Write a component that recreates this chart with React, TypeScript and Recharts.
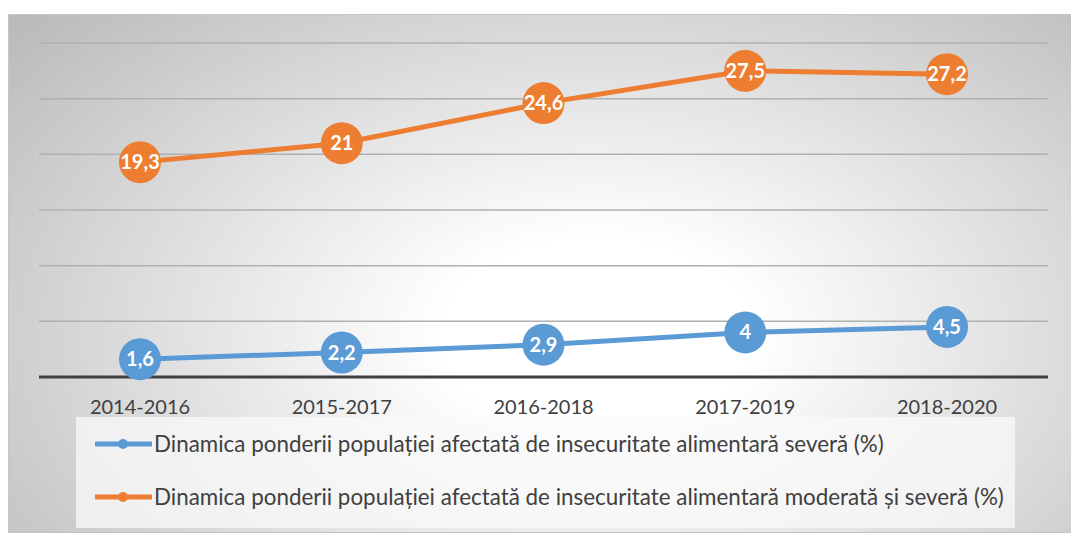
import React from "react";
import { LineChart, Line, XAxis, YAxis, CartesianGrid, LabelList } from "recharts";

const periods = ["2014-2016", "2015-2017", "2016-2018", "2017-2019", "2018-2020"];
const severe = [1.6, 2.2, 2.9, 4, 4.5];
const moderateSevere = [19.3, 21, 24.6, 27.5, 27.2];
const yTicks = [0, 5, 10, 15, 20, 25, 30];

const severeName = "Dinamica ponderii populației afectată de insecuritate alimentară severă (%)";
const moderateName =
  "Dinamica ponderii populației afectată de insecuritate alimentară moderată și severă (%)";

const BLUE = "#5B9BD5";
const ORANGE = "#ED7D31";
const FONT = "Lato, 'Open Sans', sans-serif";

const data = periods.map((p, i) => ({
  period: p,
  severe: severe[i],
  moderate: moderateSevere[i],
}));

const fmt = (v: number) => String(v).replace(".", ",");

const DotLabel = (props: any) => {
  const { x, y, value } = props;
  return (
    <text
      x={x}
      y={y}
      dy={7}
      textAnchor="middle"
      fill="#fff"
      fontSize={20}
      fontWeight={700}
      fontFamily={FONT}
    >
      {fmt(value)}
    </text>
  );
};

const legendItems = [
  { name: severeName, color: BLUE },
  { name: moderateName, color: ORANGE },
];

export default function App() {
  return (
    <div
      style={{
        position: "relative",
        width: 1071,
        height: 519,
        marginTop: 6,
        border: "1px solid #c6c6c6",
        boxSizing: "border-box",
        background:
          "radial-gradient(ellipse 72% 92% at 55% 62%, #ffffff 0%, #ffffff 20%, #bababa 100%)",
        overflow: "hidden",
      }}
    >
      <LineChart
        width={1071}
        height={519}
        data={data}
        margin={{ top: 28, right: 32, left: 30, bottom: 129 }}
      >
        <CartesianGrid vertical={false} stroke="#b0b0b0" strokeWidth={1.5} />
        <YAxis hide domain={[0, 30]} ticks={yTicks} />
        <XAxis
          dataKey="period"
          height={28}
          padding={{ left: 101, right: 101 }}
          tickLine={false}
          axisLine={{ stroke: "#404040", strokeWidth: 3 }}
          tick={{ fill: "#404040", fontSize: 20, fontFamily: FONT }}
          tickMargin={17}
        />
        <Line
          dataKey="severe"
          name={severeName}
          stroke={BLUE}
          strokeWidth={5}
          dot={{ r: 21, fill: BLUE, stroke: "none" }}
          activeDot={false}
          isAnimationActive={false}
        >
          <LabelList dataKey="severe" content={DotLabel} />
        </Line>
        <Line
          dataKey="moderate"
          name={moderateName}
          stroke={ORANGE}
          strokeWidth={5}
          dot={{ r: 21, fill: ORANGE, stroke: "none" }}
          activeDot={false}
          isAnimationActive={false}
        >
          <LabelList dataKey="moderate" content={DotLabel} />
        </Line>
      </LineChart>
      <div
        style={{
          position: "absolute",
          left: 67,
          top: 402,
          width: 939,
          height: 111,
          background: "rgba(250,250,250,0.75)",
          fontFamily: FONT,
          fontSize: 22.4,
          color: "#404040",
        }}
      >
        {legendItems.map((item, i) => (
          <div
            key={i}
            style={{
              position: "absolute",
              left: 19,
              top: 13 + i * 53,
              display: "flex",
              alignItems: "center",
              whiteSpace: "nowrap",
            }}
          >
            <svg width={57} height={14} style={{ marginRight: 2 }}>
              <line x1={1} y1={7} x2={56} y2={7} stroke={item.color} strokeWidth={5} strokeLinecap="round" />
              <circle cx={28} cy={7} r={5} fill={item.color} />
            </svg>
            <span>{item.name}</span>
          </div>
        ))}
      </div>
    </div>
  );
}
